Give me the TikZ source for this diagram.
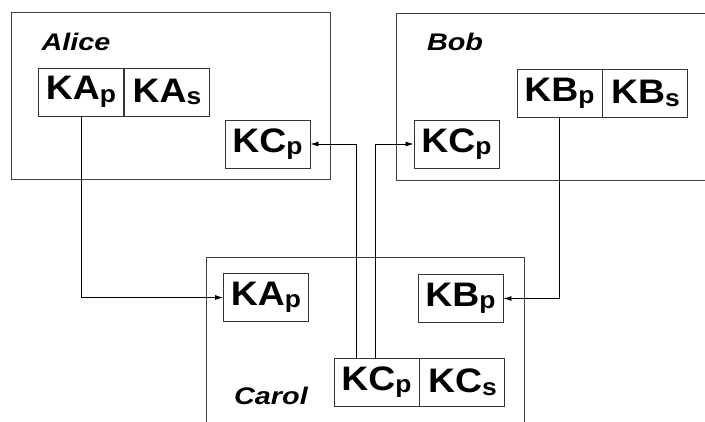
\documentclass[tikz,border=0pt]{standalone}
\usepackage{fontspec}
\setmainfont{Liberation Sans}
\usetikzlibrary{positioning,arrows.meta}

\newcommand{\keyname}[2]{\scalebox{1.1}[1]{\bfseries #1\raisebox{-2.5pt}{\fontsize{24}{24}\selectfont #2}}}

\tikzset{
  keybox/.style={draw=black!80, line width=0.9pt, minimum width=85pt, minimum height=48pt, inner sep=0pt, font=\fontsize{34}{34}\selectfont},
  party/.style={font=\fontsize{24}{24}\selectfont\bfseries\itshape},
  frame/.style={draw=black!75, line width=0.9pt},
  link/.style={-{Latex[length=8pt,width=5pt]}, line width=0.8pt},
}

\begin{document}
\begin{tikzpicture}[x=1pt,y=-1pt]
    \useasboundingbox (0,0) rectangle (705,421);
    \clip (0,0) rectangle (705,421);

    % Alice
    \draw[frame] (11,12) rectangle (330,179);
    \node[party] (alice) at (76,42) {\scalebox{1.2}[1]{Alice}};
    \node[keybox] (aKAp) at (81,92) {\keyname{KA}{p}};
    \node[keybox, right=0pt of aKAp] (aKAs) {\keyname{KA}{s}};
    \node[keybox] (aKCp) at (267.5,144) {\keyname{KC}{p}};

    % Bob
    \draw[frame] (396,13) rectangle (720,180);
    \node[party] (bob) at (455,42) {\scalebox{1.2}[1]{Bob}};
    \node[keybox] (bKBp) at (559.5,93.5) {\keyname{KB}{p}};
    \node[keybox, right=0pt of bKBp] (bKBs) {\keyname{KB}{s}};
    \node[keybox] (bKCp) at (456.5,144) {\keyname{KC}{p}};

    % Carol
    \draw[frame] (206,257) rectangle (524,440);
    \node[party] (carol) at (271,396) {\scalebox{1.2}[1]{Carol}};
    \node[keybox] (cKAp) at (266,297.5) {\keyname{KA}{p}};
    \node[keybox] (cKBp) at (460.5,298.5) {\keyname{KB}{p}};
    \node[keybox] (cKCp) at (376.5,382) {\keyname{KC}{p}};
    \node[keybox, right=0pt of cKCp] (cKCs) {\keyname{KC}{s}};

    \draw[link] (aKAp.south) |- (cKAp.west);
    \draw[link] (bKBp.south) |- (cKBp.east);
    \draw[link] ([xshift=-20pt]cKCp.north) |- (aKCp.east);
    \draw[link] ([xshift=-1.5pt]cKCp.north) |- (bKCp.west);
\end{tikzpicture}
\end{document}
